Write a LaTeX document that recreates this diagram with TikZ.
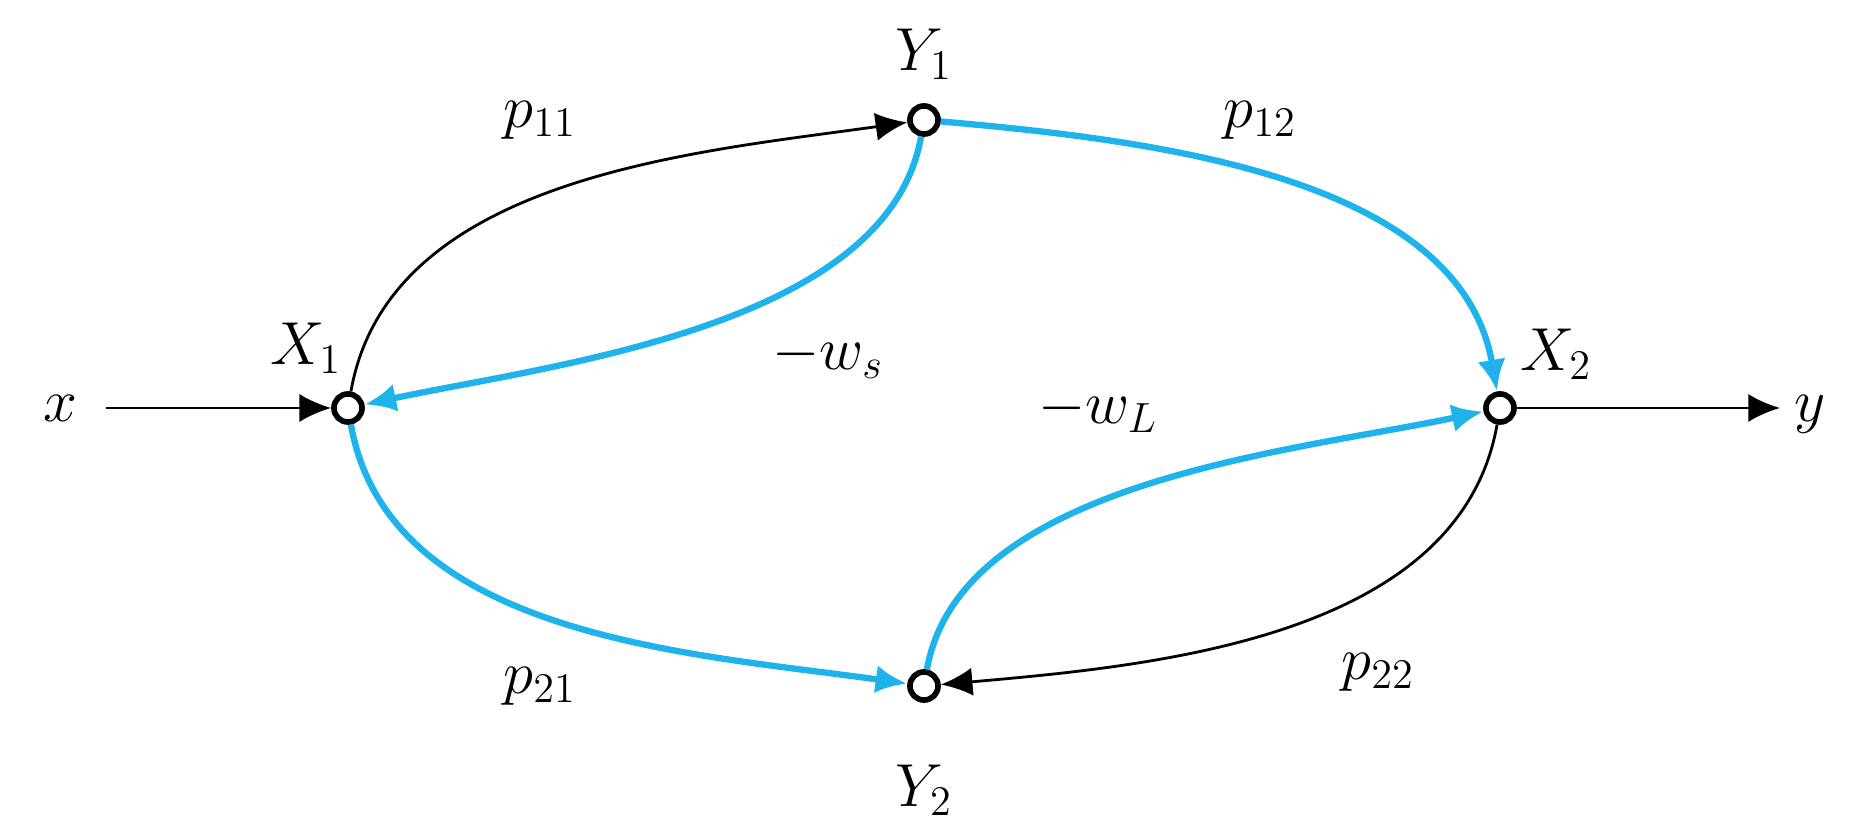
\documentclass[tikz,border=0pt]{standalone}
\usetikzlibrary{arrows.meta}
\definecolor{flowblue}{RGB}{30,180,235}
\begin{document}
\begin{tikzpicture}[main/.style={circle,draw,line width=1.6pt,minimum size=8pt,inner sep=0pt},
            lbl/.style={font=\LARGE},
            blk/.style={line width=0.8pt,-{Latex[length=9pt,width=8pt]}},
            blu/.style={line width=1.8pt,draw=flowblue,-{Latex[length=9pt,width=8pt]},color=flowblue}]
            \useasboundingbox (0,0) rectangle (18.72,8.4);
            \node[main] at (3.48, 4.32) (X1) {};
            \node[main] at (15.0, 4.32) (X2) {};
            \node[main] at (9.24, 7.2) (Y1) {};
            \node[main] at (9.24, 1.54) (Y2) {};

            \node[lbl] at (0.6, 4.32) (xin) {$x$};
            \node[lbl] at (18.1, 4.26) (yout) {$y$};
            \coordinate (xs) at (1.06, 4.32);
            \coordinate (ye) at (17.8, 4.32);

            \node[lbl] at (3.06, 4.92) {$X_1$};
            \node[lbl] at (15.56, 4.86) {$X_2$};
            \node[lbl] at (9.24, 7.86) {$Y_1$};
            \node[lbl] at (9.24, 0.5) {$Y_2$};

            \node[lbl] at (5.4, 7.2) {$p_{11}$};
            \node[lbl] at (12.6, 7.2) {$p_{12}$};
            \node[lbl] at (5.4, 1.54) {$p_{21}$};
            \node[lbl] at (13.78, 1.68) {$p_{22}$};
            \node[lbl] at (8.28, 4.84) {$-w_s$};
            \node[lbl] at (10.98, 4.3) {$-w_L$};

            \draw[blk](xs) -- (X1);
            \draw[blk](X2) -- (ye);

            \draw[blk](X1) to[out=80, in=188, looseness=0.9] (Y1);
            \draw[blu](Y1) to[out=-5, in=100, looseness=0.9] (X2);
            \draw[blu](Y1) to[out=-100, in=12, looseness=0.8] (X1);
            \draw[blu](X1) to[out=-80, in=172, looseness=0.9] (Y2);
            \draw[blk](X2) to[out=-100, in=5, looseness=0.9] (Y2);
            \draw[blu](Y2) to[out=80, in=192, looseness=0.8] (X2);
\end{tikzpicture}
\end{document}
